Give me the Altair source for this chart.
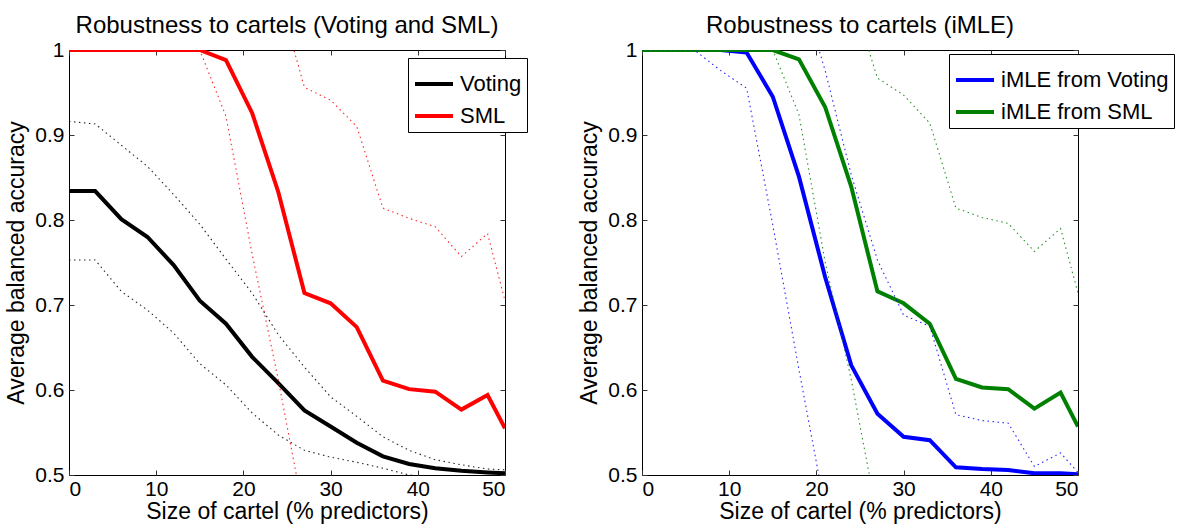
import altair as alt
import pandas as pd

FONT = "Liberation Sans"

# x positions: size of cartel (% predictors)
x_vals = [0, 3, 6, 9, 12, 15, 18, 21, 24, 27, 30, 33, 36, 39, 42, 45, 48, 50]

# Left panel: Voting and SML (mean, lower dotted, upper dotted)
voting_mean = [0.834, 0.834, 0.801, 0.780, 0.747, 0.705, 0.678, 0.639, 0.608, 0.576, 0.557, 0.538, 0.522, 0.513, 0.508, 0.505, 0.503, 0.502]
voting_upper = [0.916, 0.913, 0.888, 0.863, 0.830, 0.795, 0.754, 0.714, 0.665, 0.627, 0.592, 0.569, 0.545, 0.529, 0.518, 0.512, 0.507, 0.506]
voting_lower = [0.753, 0.753, 0.716, 0.694, 0.667, 0.631, 0.606, 0.573, 0.547, 0.529, 0.521, 0.515, 0.508, 0.500, 0.497, 0.495, 0.494, 0.493]

sml_mean = [1.0, 1.0, 1.0, 1.0, 1.0, 1.0, 0.988, 0.926, 0.833, 0.714, 0.702, 0.674, 0.611, 0.601, 0.598, 0.577, 0.594, 0.555]
sml_upper = [1.0, 1.0, 1.0, 1.0, 1.0, 1.0, 1.05, 1.08, 1.066, 0.956, 0.941, 0.910, 0.814, 0.802, 0.792, 0.757, 0.784, 0.705]
sml_lower = [1.0, 1.0, 1.0, 1.0, 1.0, 1.0, 0.922, 0.760, 0.612, 0.450, 0.440, 0.430, 0.410, 0.400, 0.400, 0.390, 0.400, 0.400]

# Right panel: iMLE from Voting / from SML
imle_v_mean = [1.0, 1.0, 1.0, 1.0, 0.997, 0.945, 0.851, 0.733, 0.629, 0.572, 0.545, 0.541, 0.509, 0.507, 0.506, 0.502, 0.502, 0.501]
imle_v_upper = [1.0, 1.0, 1.0, 1.0, 1.0, 1.0, 1.079, 0.976, 0.853, 0.753, 0.688, 0.675, 0.571, 0.564, 0.561, 0.510, 0.526, 0.503]
imle_v_lower = [1.0, 1.0, 1.0, 0.976, 0.955, 0.794, 0.624, 0.460, 0.440, 0.430, 0.430, 0.420, 0.420, 0.410, 0.410, 0.400, 0.400, 0.400]

imle_s_mean = [1.0, 1.0, 1.0, 1.0, 1.0, 1.0, 0.989, 0.933, 0.839, 0.716, 0.702, 0.678, 0.613, 0.603, 0.601, 0.578, 0.597, 0.557]
imle_s_upper = [1.0, 1.0, 1.0, 1.0, 1.0, 1.0, 1.05, 1.08, 1.066, 0.967, 0.947, 0.914, 0.814, 0.803, 0.796, 0.763, 0.790, 0.714]
imle_s_lower = [1.0, 1.0, 1.0, 1.0, 1.0, 1.0, 0.924, 0.751, 0.612, 0.450, 0.440, 0.430, 0.410, 0.400, 0.400, 0.390, 0.400, 0.400]

x_ticks = [0, 10, 20, 30, 40, 50]
y_ticks = [0.5, 0.6, 0.7, 0.8, 0.9, 1.0]

PW, PH = 436, 425
TICK = 5


def build_frames(names, means, lowers, uppers):
    mean_rows, bound_rows = [], []
    for name, m, lo, up in zip(names, means, lowers, uppers):
        for i, x in enumerate(x_vals):
            mean_rows.append({"x": x, "series": name, "value": m[i]})
            bound_rows.append({"x": x, "series": name, "bound": "lower", "value": lo[i]})
            bound_rows.append({"x": x, "series": name, "bound": "upper", "value": up[i]})
    return pd.DataFrame(mean_rows), pd.DataFrame(bound_rows)


def panel(names, means, lowers, uppers, colors, title, lx, ly):
    mean_df, bound_df = build_frames(names, means, lowers, uppers)
    xs = alt.Scale(domain=[0, 50], nice=False, zero=False)
    ys = alt.Scale(domain=[0.5, 1.0], nice=False, zero=False)
    cs = alt.Scale(domain=names, range=colors)

    solid = alt.Chart(mean_df).mark_line(strokeWidth=4, clip=True).encode(
        x=alt.X("x:Q", scale=xs, axis=alt.Axis(
            values=x_ticks, format="d", title="Size of cartel (% predictors)",
            domain=False, grid=False, offset=-TICK, tickSize=TICK, labelPadding=3,
            titlePadding=1)),
        y=alt.Y("value:Q", scale=ys, axis=alt.Axis(
            values=y_ticks, format="~g", title="Average balanced accuracy",
            domain=False, grid=False, offset=-TICK, tickSize=TICK, labelPadding=5,
            titlePadding=6)),
        color=alt.Color("series:N", scale=cs, legend=alt.Legend(
            title=None, orient="none", legendX=lx, legendY=ly,
            strokeColor="black", fillColor="white", padding=5,
            symbolType="stroke", symbolSize=1444, symbolStrokeWidth=4,
            labelFontSize=22, labelFont=FONT, labelColor="black",
            labelOffset=5, rowPadding=-1, labelLimit=400)),
    )

    dotted = alt.Chart(bound_df).mark_line(
        strokeWidth=1.1, strokeDash=[1.5, 3.5], clip=True, opacity=0.85
    ).encode(
        x=alt.X("x:Q", scale=xs, axis=None),
        y=alt.Y("value:Q", scale=ys, axis=None),
        color=alt.Color("series:N", scale=cs, legend=None),
        detail="bound:N",
    )

    ticks = alt.Chart(mean_df).mark_point(opacity=0).encode(
        x=alt.X("x:Q", scale=xs, axis=alt.Axis(
            orient="top", values=x_ticks, labels=False, title="",
            domain=False, grid=False, offset=-TICK, tickSize=TICK)),
        y=alt.Y("value:Q", scale=ys, axis=alt.Axis(
            orient="right", values=y_ticks, labels=False, title="",
            domain=False, grid=False, offset=-TICK, tickSize=TICK)),
    )

    return alt.layer(solid, dotted, ticks).resolve_axis(
        x="independent", y="independent"
    ).properties(
        width=PW, height=PH,
        title=alt.TitleParams(title, fontSize=24, fontWeight="normal",
                              font=FONT, color="black", anchor="middle",
                              offset=1),
    )


left = panel(["Voting", "SML"], [voting_mean, sml_mean],
             [voting_lower, sml_lower], [voting_upper, sml_upper],
             ["#000000", "#ff0000"], "Robustness to cartels (Voting and SML)",
             339, 8)
right = panel(["iMLE from Voting", "iMLE from SML"], [imle_v_mean, imle_s_mean],
              [imle_v_lower, imle_s_lower], [imle_v_upper, imle_s_upper],
              ["#0000ff", "#008000"], "Robustness to cartels (iMLE)",
              307, 4)

chart = alt.hconcat(left, right, spacing=137, bounds="flush").resolve_scale(
    color="independent", x="independent", y="independent"
).properties(
    background="white",
    padding={"left": 5, "top": 13, "right": 5, "bottom": 5},
).configure_view(
    stroke="black", strokeWidth=1
).configure_axis(
    labelFont=FONT, labelFontSize=21, labelColor="black",
    titleFont=FONT, titleFontSize=23, titleFontWeight="normal", titleColor="black",
    tickColor="#333333", tickWidth=1,
)

chart.save("out.html", embed_options={"renderer": "svg", "actions": False})
